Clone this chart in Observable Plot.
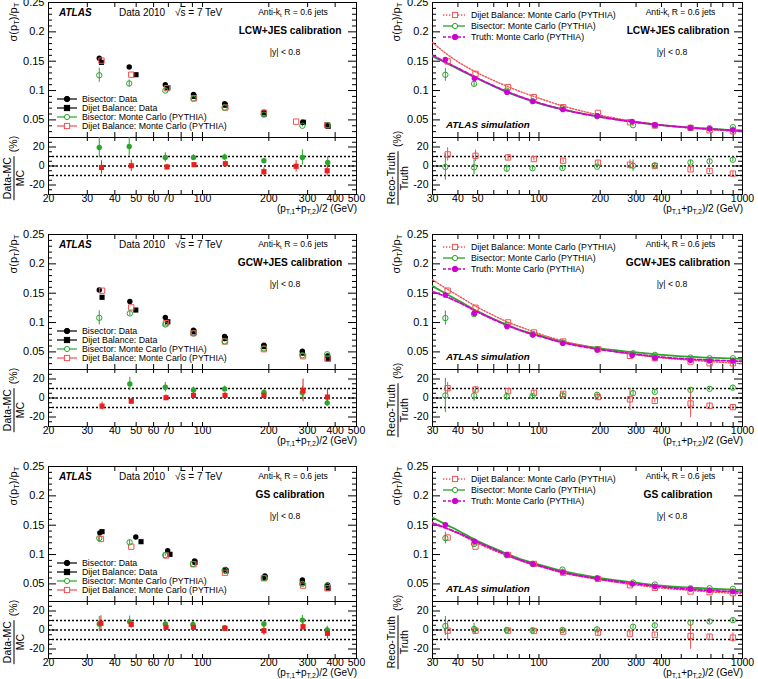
<!DOCTYPE html>
<html><head><meta charset="utf-8">
<script src="https://cdn.jsdelivr.net/npm/d3@7"></script>
<script src="https://cdn.jsdelivr.net/npm/@observablehq/plot@0.6"></script>
<style>
body{margin:0;background:#fff;}
#chart{position:relative;width:758px;height:679px;overflow:hidden;background:#fff;font-family:"Liberation Sans",Arial,Helvetica,sans-serif;color:#000;}
.t{position:absolute;white-space:nowrap;line-height:1;}
.t sub{font-size:70%;vertical-align:-0.3em;line-height:0;}
</style></head><body><div id="chart"></div><script>
// ---------------- axis tick values ----------------
const xTicksLeft = [20,30,40,50,60,70,80,90,100,200,300,400,500];
const xLabelsLeft = [20,30,40,50,60,70,100,200,300,400,500];
const xTicksRight = [30,40,50,60,70,80,90,100,200,300,400,500,600,700,800,900,1000];
const xLabelsRight = [30,40,50,60,100,200,300,400,1000];
const yMainMajor = [0.05,0.1,0.15,0.2,0.25];
const yMainMinor = [0.03,0.04,0.06,0.07,0.08,0.09,0.11,0.12,0.13,0.14,0.16,0.17,0.18,0.19,0.21,0.22,0.23,0.24];
const yRatioMajor = [-20,0,20];
const yRatioMinor = [-25,-15,-10,-5,5,10,15,25];
const refLines = [-10,0,10];
const calibrations = ["LCW+JES calibration","GCW+JES calibration","GS calibration"];

// ---------------- left panels (data vs MC) ----------------
// LCW+JES
const xBisData1 = [34,46.5,67.8,91,126,190,285,368];
const yBisData1 = [0.155,0.140,0.110,0.0935,0.0775,0.063,0.046,0.040];
const xDbData1  = [34.8,49.9,69.6,91.5,127,191,287,372];
const yDbData1  = [0.148,0.127,0.105,0.090,0.075,0.060,0.046,0.039];
const xBisMC1   = [34,46.5,67.8,91,126,190,284,370];
const yBisMC1   = [0.126,0.112,0.100,0.086,0.071,0.059,0.040,0.041];
const eBisMC1   = [0.012,0.006,0.002,0.001,0.001,0.001,0.002,0.002];
const xDbMC1    = [34.8,47.5,69,91.5,127,190,266,368];
const yDbMC1    = [0.151,0.127,0.104,0.087,0.071,0.062,0.047,0.041];
const rBis1 = [19.5,20.5,9,9,9.5,5.5,9,3.8];
const eRBis1 = [11,10,5,3,3,2,8,6];
const rDb1 = [-1.5,0.3,-1,1.4,2.4,-6,-0.3,-5];
const eRDb1 = [7,6,3,2,3,4,6,6];
// GCW+JES
const xBisData2 = [34,46.8,67.8,91,126,190,284,370];
const yBisData2 = [0.1555,0.136,0.1087,0.087,0.0762,0.0614,0.051,0.0432];
const xDbData2  = [35,49.8,69.6,91.5,127,190,284,372];
const yDbData2  = [0.143,0.1213,0.1013,0.084,0.0728,0.059,0.048,0.038];
const xBisMC2   = [34,46.8,67.8,91,126,190,284,368];
const yBisMC2   = [0.108,0.1156,0.0967,0.0814,0.068,0.056,0.0443,0.046];
const eBisMC2   = [0.012,0.004,0.002,0.001,0.001,0.001,0.002,0.002];
const xDbMC2    = [35,47.5,68.3,91,126.5,190,286,369];
const yDbMC2    = [0.1543,0.1258,0.099,0.082,0.0677,0.0546,0.0426,0.0386];
const rBis2 = [44,14.7,11.3,8.5,9.6,5.8,5.5,-5.1];
const eRBis2 = [14,7,5,3,3,3,7,4];
const rDb2 = [-8.5,-3.4,0.3,2.7,2.7,2.7,7.9,1];
const eRDb2 = [4,3,3,3,3,4,12,9];
// GS
const xBisData3 = [34.2,49.8,69.5,92,127,192,284,370];
const yBisData3 = [0.137,0.130,0.1066,0.089,0.0744,0.0636,0.0568,0.048];
const xDbData3  = [35,52.6,71.2,92.5,128,192,284,372];
const yDbData3  = [0.139,0.1219,0.1004,0.0868,0.0721,0.0608,0.0517,0.0426];
const xBisMC3   = [34,46.7,67.8,90.5,126,190,284,368];
const yBisMC3   = [0.128,0.1208,0.099,0.084,0.0735,0.060,0.050,0.047];
const eBisMC3   = [0.006,0.004,0.002,0.001,0.001,0.001,0.002,0.002];
const xDbMC3    = [34.6,47.5,68.3,91,126.5,190,286,369];
const yDbMC3    = [0.1265,0.1134,0.0985,0.0835,0.069,0.0596,0.047,0.0426];
const rBis3 = [6.3,8.7,6.3,5.9,2.4,6.3,10.4,0];
const eRBis3 = [8,6,4,3,2,3,5,4];
const rDb3 = [7,5.9,2.8,2.8,1.7,-0.7,3.5,-3.5];
const eRDb3 = [8,4,3,3,3,5,4,6];

// ---------------- right panels (MC reco vs truth) ----------------
const xTruth = [34.7,48.2,69.7,93.4,131,193.5,287,371,555,689,897];
const xDbR   = [35.6,48.8,70.5,94.5,131.5,195,280,371,556,689,897];
const xBisR  = [34.7,48,69.5,93,130.5,193,290,371,555,689,897];
const yTruth1 = [0.153,0.121,0.0971,0.0818,0.0676,0.0568,0.0472,0.0415,0.0364,0.0347,0.033];
const yDbR1   = [0.1496,0.1285,0.1057,0.0886,0.0716,0.0619,0.046,0.0404,0.0364,0.0324,0.0307];
const yBisR1  = [0.1268,0.1115,0.0998,0.0817,0.0698,0.0562,0.041,0.041,0.0364,0.0359,0.0375];
const eBisR1  = [0.011,0.005,0.002,0.001,0.001,0.001,0.002,0.001,0.001,0.001,0.001];
const rRDb1 = [12.2,10.8,9,7.3,5.6,3.5,1.4,0,-3.5,-5.2,-8];
const eRRDb1 = [7,6,3,2,2,2,5,2,2,2,2];
const rRBis1 = [-1,-1.4,-2.8,-2.4,-2.1,-0.7,0.3,0.7,3.8,4.9,6.6];
const eRRBis1 = [14,8,4,2,2,2,6,2,2,2,2];
const yTruth2 = [0.147,0.116,0.0933,0.079,0.0648,0.0534,0.0443,0.0397,0.0357,0.0346,0.0346];
const yDbR2   = [0.1543,0.1252,0.1002,0.0831,0.0677,0.0546,0.0432,0.0392,0.0335,0.0306,0.0306];
const yBisR2  = [0.1076,0.1144,0.0956,0.0796,0.066,0.0546,0.0477,0.0449,0.0403,0.0392,0.0392];
const eBisR2  = [0.012,0.004,0.002,0.001,0.001,0.001,0.002,0.001,0.001,0.001,0.001];
const rRDb2 = [10.3,8.9,7.2,5.5,4.4,1,-1.4,-3.1,-5.8,-8.2,-9.6];
const eRRDb2 = [6,3,2,2,2,3,12,2,15,3,2];
const rRBis2 = [2.7,2.7,1.7,2,2.7,3.4,5.1,6.5,8.6,9.6,10.9];
const eRRBis2 = [18,6,4,2,2,2,3,2,2,2,2];
const yTruth3 = [0.1507,0.1224,0.0998,0.084,0.0698,0.0596,0.05,0.0455,0.0415,0.0387,0.037];
const yDbR3   = [0.129,0.1134,0.0993,0.084,0.0692,0.0585,0.0477,0.0432,0.037,0.0359,0.0342];
const yBisR3  = [0.128,0.118,0.099,0.084,0.0743,0.0596,0.0523,0.0489,0.0426,0.0426,0.0415];
const eBisR3  = [0.01,0.004,0.002,0.001,0.001,0.001,0.002,0.001,0.001,0.001,0.001];
const rRDb3 = [-0.7,-0.7,-0.7,-1,-1.7,-2.8,-3.8,-4.9,-6.3,-7,-8];
const eRRDb3 = [10,3,2,2,2,4,2,2,14,2,5];
const rRBis3 = [4.2,1,0,-0.3,0,0.7,3.5,4.9,7.7,9,10.4];
const eRRBis3 = [10,6,2,2,2,2,2,2,2,2,2];

// fitted curves
const curveX = [30,35,40,50,60,70,85,100,130,200,300,400,600,1000];
const curveDb1  = [0.182,0.163,0.149,0.130,0.117,0.107,0.0955,0.087,0.074,0.058,0.047,0.041,0.035,0.030];
const curveBis1 = [0.158,0.147,0.137,0.120,0.107,0.097,0.086,0.078,0.068,0.055,0.046,0.041,0.036,0.032];
const curveTr1  = [0.160,0.148,0.138,0.121,0.108,0.098,0.087,0.079,0.068,0.055,0.046,0.041,0.036,0.031];
const curveDb2  = [0.173,0.158,0.146,0.126,0.112,0.101,0.090,0.081,0.069,0.055,0.045,0.040,0.035,0.030];
const curveBis2 = [0.162,0.149,0.138,0.119,0.106,0.096,0.085,0.078,0.067,0.056,0.049,0.045,0.041,0.038];
const curveTr2  = [0.153,0.144,0.135,0.118,0.105,0.095,0.084,0.077,0.066,0.054,0.046,0.041,0.037,0.034];
const curveDb3  = [0.155,0.145,0.136,0.119,0.107,0.098,0.087,0.080,0.069,0.057,0.048,0.043,0.038,0.033];
const curveBis3 = [0.163,0.151,0.141,0.123,0.111,0.101,0.090,0.083,0.072,0.060,0.052,0.047,0.043,0.0395];
const curveTr3  = [0.153,0.145,0.137,0.121,0.109,0.099,0.088,0.081,0.070,0.058,0.050,0.045,0.040,0.036];

// ---------------- styling / layout ----------------
const FONT = '"Liberation Sans", Arial, Helvetica, sans-serif';
const BLACK = "#000", GREEN = "#2ba52b", RED = "#ee1c1c", RED_OPEN = "#f25050", MAGENTA = "#d000d0";
const ROW_TOP = [2, 234, 466];
const MAIN_H = 135, RATIO_H = 57;
const PANEL = {
  left:  {x0: 48,  x1: 356, svgLeft: 0,   domain: [20, 500],  ticks: xTicksLeft,  labels: xLabelsLeft},
  right: {x0: 432, x1: 742, svgLeft: 379, domain: [30, 1000], ticks: xTicksRight, labels: xLabelsRight}
};
const chart = document.getElementById("chart");

const pts = (xs, ys, es) => xs.map((x, i) => ({x, y: ys[i], e: es ? es[i] : 0}));

function addSvg(svg, left, top) {
  svg.style.position = "absolute";
  svg.style.left = left + "px";
  svg.style.top = top + "px";
  chart.appendChild(svg);
}
function addText(html, x, cy, o = {}) {
  const d = document.createElement("div");
  d.className = "t";
  d.innerHTML = html;
  d.style.left = x + "px";
  d.style.top = cy + "px";
  d.style.fontSize = (o.size || 10) + "px";
  if (o.bold) d.style.fontWeight = "bold";
  if (o.italic) d.style.fontStyle = "italic";
  const tx = o.anchor === "middle" ? "-50%" : o.anchor === "end" ? "-100%" : "0";
  d.style.transform = o.rotate ? `translate(-50%,-50%) rotate(${o.rotate}deg)` : `translate(${tx},-50%)`;
  chart.appendChild(d);
}
function legendEntry(x0, x1, xm, xt, cy, spec, text) {
  const w = x1 - x0 + 8;
  const m = xm - x0 + 4;
  let marker;
  if (spec.symbol === "square") {
    marker = `<rect x="${m-2.6}" y="2.4" width="5.2" height="5.2" fill="${spec.filled ? spec.color : "white"}" stroke="${spec.color}" stroke-width="1"/>`;
  } else {
    marker = `<circle cx="${m}" cy="5" r="${spec.filled ? 2.7 : 2.6}" fill="${spec.filled ? spec.color : "white"}" stroke="${spec.color}" stroke-width="1"/>`;
  }
  const line = `<line x1="4" x2="${w-4}" y1="5" y2="5" stroke="${spec.color}" stroke-width="${spec.lw || 1.2}" ${spec.dash ? `stroke-dasharray="${spec.dash}"` : ""}/>`;
  chart.insertAdjacentHTML("beforeend",
    `<svg width="${w}" height="10" style="position:absolute;left:${x0-4}px;top:${cy-5}px;overflow:visible">${line}${marker}</svg>`);
  addText(text, xt, cy, {size: 8.8});
}

function frameMarks(P, fh, xLen, yMaj, yMin, major, minor) {
  const fw = P.x1 - P.x0;
  return [
    Plot.tickX(P.ticks, {x: d => d, insetTop: fh - xLen, stroke: BLACK}),
    Plot.tickX(P.ticks, {x: d => d, insetBottom: fh - xLen, stroke: BLACK}),
    Plot.tickY(major, {y: d => d, insetRight: fw - yMaj, stroke: BLACK}),
    Plot.tickY(major, {y: d => d, insetLeft: fw - yMaj, stroke: BLACK}),
    Plot.tickY(minor, {y: d => d, insetRight: fw - yMin, stroke: BLACK}),
    Plot.tickY(minor, {y: d => d, insetLeft: fw - yMin, stroke: BLACK}),
    Plot.frame({stroke: BLACK, strokeWidth: 1})
  ];
}
function drawMain(P, T, marks) {
  const mt = 12, mr = 6;
  const svg = Plot.plot({
    width: P.x1 - P.svgLeft + mr, height: mt + MAIN_H,
    marginTop: mt, marginBottom: 0, marginLeft: P.x0 - P.svgLeft, marginRight: mr,
    style: {background: "transparent", overflow: "visible", fontFamily: FONT, fontSize: "11px", color: BLACK},
    x: {type: "log", domain: P.domain, axis: null, label: null},
    y: {domain: [0.02, 0.25], ticks: yMainMajor, tickSize: 0, tickPadding: 4, tickFormat: d => String(d), label: null},
    marks: [...frameMarks(P, MAIN_H, 5, 8, 4, yMainMajor, yMainMinor), ...marks]
  });
  addSvg(svg, P.svgLeft, T - mt);
}
function drawRatio(P, T, marks) {
  const mb = 22, mr = 6;
  const svg = Plot.plot({
    width: P.x1 - P.svgLeft + mr, height: RATIO_H + mb,
    marginTop: 0, marginBottom: mb, marginLeft: P.x0 - P.svgLeft, marginRight: mr,
    style: {background: "transparent", overflow: "visible", fontFamily: FONT, fontSize: "10.5px", color: BLACK},
    x: {type: "log", domain: P.domain, ticks: P.labels, tickSize: 0, tickPadding: 0, tickFormat: d => String(d), label: null},
    y: {domain: [-30, 30], ticks: yRatioMajor, tickSize: 0, tickPadding: 4, tickFormat: d => String(d), label: null},
    marks: [
      ...frameMarks(P, RATIO_H, 4, 8, 4, yRatioMajor, yRatioMinor),
      Plot.ruleY(refLines, {y: d => d, stroke: BLACK, strokeWidth: 1.6, strokeDasharray: "2,2"}),
      ...marks
    ]
  });
  addSvg(svg, P.svgLeft, T + MAIN_H);
}
const errBar = (data, color) => Plot.ruleX(data, {x: "x", y1: d => d.y - d.e, y2: d => d.y + d.e, stroke: color, strokeWidth: 1, clip: true});

function axisTitles(P, T, ratioNum, ratioDen, xTitleCx, ratioCx) {
  addText("σ(p<sub>T</sub>)/p<sub>T</sub>", xTitleCx, T + 20, {size: 11, rotate: -90});
  addText(`<span style="display:inline-flex;align-items:center"><span style="display:inline-flex;flex-direction:column;align-items:center;line-height:1.0"><span style="border-bottom:1px solid #000;padding:0 1px 1px">${ratioNum}</span><span>${ratioDen}</span></span><span style="margin-left:4px">(%)</span></span>`,
    ratioCx, T + 166, {size: 10.5, rotate: -90});
  addText("(p<sub>T,1</sub>+p<sub>T,2</sub>)/2 (GeV)", P.x1 + 1, T + 207.3, {size: 10, anchor: "end"});
}

// ---------------- left column ----------------
const leftSets = [
  {bd: pts(xBisData1, yBisData1), dd: pts(xDbData1, yDbData1), bm: pts(xBisMC1, yBisMC1, eBisMC1), dm: pts(xDbMC1, yDbMC1),
   rb: pts(xBisMC1, rBis1, eRBis1), rd: pts(xDbMC1, rDb1, eRDb1)},
  {bd: pts(xBisData2, yBisData2), dd: pts(xDbData2, yDbData2), bm: pts(xBisMC2, yBisMC2, eBisMC2), dm: pts(xDbMC2, yDbMC2),
   rb: pts(xBisMC2, rBis2, eRBis2), rd: pts(xDbMC2, rDb2, eRDb2)},
  {bd: pts(xBisData3, yBisData3), dd: pts(xDbData3, yDbData3), bm: pts(xBisMC3, yBisMC3, eBisMC3), dm: pts(xDbMC3, yDbMC3),
   rb: pts(xBisMC3, rBis3, eRBis3), rd: pts(xDbMC3, rDb3, eRDb3)}
];
leftSets.forEach((s, i) => {
  const T = ROW_TOP[i], P = PANEL.left;
  drawMain(P, T, [
    errBar(s.bm, GREEN),
    Plot.dot(s.bd, {x: "x", y: "y", symbol: "circle", r: 2.7, fill: BLACK}),
    Plot.dot(s.dd, {x: "x", y: "y", symbol: "square", r: 2.9, fill: BLACK}),
    Plot.dot(s.dm, {x: "x", y: "y", symbol: "square", r: 3.0, fill: "none", stroke: RED_OPEN, strokeWidth: 1}),
    Plot.dot(s.bm, {x: "x", y: "y", symbol: "circle", r: 2.7, fill: "none", stroke: GREEN, strokeWidth: 1})
  ]);
  drawRatio(P, T, [
    errBar(s.rb, GREEN),
    errBar(s.rd, RED),
    Plot.dot(s.rb, {x: "x", y: "y", symbol: "circle", r: 2.7, fill: GREEN, clip: true}),
    Plot.dot(s.rd, {x: "x", y: "y", symbol: "square", r: 2.9, fill: RED, clip: true})
  ]);
  axisTitles(P, T, "Data-MC", "MC", 13, 12.5);
  addText("ATLAS", 59, T + 11.3, {size: 10, bold: true, italic: true});
  addText("Data 2010", 119, T + 11.3, {size: 10});
  addText('√<span style="text-decoration:overline">s</span> = 7 TeV', 175, T + 11.3, {size: 10});
  addText("Anti-k<sub>t</sub> R = 0.6 jets", 293, T + 9.5, {size: 8.6, anchor: "middle"});
  addText(calibrations[i], 290, T + 28.5, {size: 10.2, bold: true, anchor: "middle"});
  addText("|y| &lt; 0.8", 285, T + 49.7, {size: 8.6, anchor: "middle"});
  const lg = [
    [{color: BLACK, symbol: "circle", filled: true}, "Bisector: Data"],
    [{color: BLACK, symbol: "square", filled: true}, "Dijet Balance: Data"],
    [{color: GREEN, symbol: "circle", filled: false}, "Bisector: Monte Carlo (PYTHIA)"],
    [{color: RED_OPEN, symbol: "square", filled: false}, "Dijet Balance: Monte Carlo (PYTHIA)"]
  ];
  lg.forEach(([spec, text], k) => legendEntry(57, 77, 67, 82, T + 97 + k * 9.1, spec, text));
});

// ---------------- right column ----------------
const rightSets = [
  {tr: pts(xTruth, yTruth1), db: pts(xDbR, yDbR1), bs: pts(xBisR, yBisR1, eBisR1),
   rd: pts(xDbR, rRDb1, eRRDb1), rb: pts(xBisR, rRBis1, eRRBis1),
   cDb: pts(curveX, curveDb1), cBis: pts(curveX, curveBis1), cTr: pts(curveX, curveTr1)},
  {tr: pts(xTruth, yTruth2), db: pts(xDbR, yDbR2), bs: pts(xBisR, yBisR2, eBisR2),
   rd: pts(xDbR, rRDb2, eRRDb2), rb: pts(xBisR, rRBis2, eRRBis2),
   cDb: pts(curveX, curveDb2), cBis: pts(curveX, curveBis2), cTr: pts(curveX, curveTr2)},
  {tr: pts(xTruth, yTruth3), db: pts(xDbR, yDbR3), bs: pts(xBisR, yBisR3, eBisR3),
   rd: pts(xDbR, rRDb3, eRRDb3), rb: pts(xBisR, rRBis3, eRRBis3),
   cDb: pts(curveX, curveDb3), cBis: pts(curveX, curveBis3), cTr: pts(curveX, curveTr3)}
];
rightSets.forEach((s, i) => {
  const T = ROW_TOP[i], P = PANEL.right;
  drawMain(P, T, [
    Plot.line(s.cBis, {x: "x", y: "y", stroke: GREEN, strokeWidth: 1.8, curve: "monotone-x", clip: true}),
    Plot.line(s.cDb, {x: "x", y: "y", stroke: RED_OPEN, strokeWidth: 1.4, strokeDasharray: "1.3,1.7", curve: "monotone-x", clip: true}),
    Plot.line(s.cTr, {x: "x", y: "y", stroke: MAGENTA, strokeWidth: 1.8, strokeDasharray: "4,2", curve: "monotone-x", clip: true}),
    errBar(s.bs, GREEN),
    Plot.dot(s.db, {x: "x", y: "y", symbol: "square", r: 3.0, fill: "none", stroke: RED_OPEN, strokeWidth: 1}),
    Plot.dot(s.bs, {x: "x", y: "y", symbol: "circle", r: 2.7, fill: "none", stroke: GREEN, strokeWidth: 1}),
    Plot.dot(s.tr, {x: "x", y: "y", symbol: "circle", r: 2.8, fill: MAGENTA})
  ]);
  drawRatio(P, T, [
    errBar(s.rb, GREEN),
    errBar(s.rd, RED_OPEN),
    Plot.dot(s.rd, {x: "x", y: "y", symbol: "square", r: 3.0, fill: "none", stroke: RED_OPEN, strokeWidth: 1, clip: true}),
    Plot.dot(s.rb, {x: "x", y: "y", symbol: "circle", r: 2.7, fill: "none", stroke: GREEN, strokeWidth: 1, clip: true})
  ]);
  axisTitles(P, T, "Reco-Truth", "Truth", 396, 397);
  addText("Anti-k<sub>t</sub> R = 0.6 jets", 680.5, T + 9.5, {size: 8.6, anchor: "middle"});
  addText(calibrations[i], 678, T + 28.5, {size: 10.2, bold: true, anchor: "middle"});
  addText("|y| &lt; 0.8", 672, T + 49.7, {size: 8.6, anchor: "middle"});
  addText("ATLAS simulation", 446, T + 123, {size: 9.8, bold: true, italic: true});
  const lg = [
    [{color: RED_OPEN, symbol: "square", filled: false, dash: "1.3,1.7", lw: 1.3}, "Dijet Balance: Monte Carlo (PYTHIA)"],
    [{color: GREEN, symbol: "circle", filled: false, lw: 1.3}, "Bisector: Monte Carlo (PYTHIA)"],
    [{color: MAGENTA, symbol: "circle", filled: true, dash: "3,2", lw: 1.5}, "Truth: Monte Carlo (PYTHIA)"]
  ];
  lg.forEach(([spec, text], k) => legendEntry(443, 465, 455, 471, T + 12.7 + k * 11.2, spec, text));
});
</script></body></html>
